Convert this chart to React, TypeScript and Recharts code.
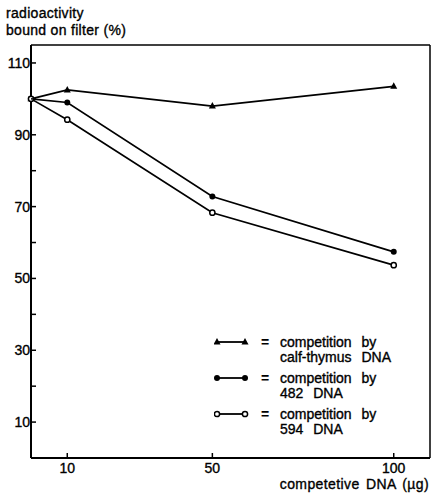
import { LineChart, Line, XAxis, YAxis, ReferenceLine } from "recharts"

const doses = [0, 10, 50, 100]
const calfThymus = [100, 102.5, 98, 103.5]
const dna482 = [100, 99, 72.8, 57.4]
const dna594 = [100, 94.2, 68.3, 53.7]
const xTicks = [10, 50, 100]
const yTicks = [10, 20, 30, 40, 50, 60, 70, 80, 90, 100, 110]
const yLabels = [10, 30, 50, 70, 90, 110]

const data = doses.map((d, i) => ({
  dose: d,
  calf: calfThymus[i],
  d482: dna482[i],
  d594: dna594[i],
}))

const font = "'Liberation Sans', Arial, sans-serif"
const heavy = { WebkitTextStroke: "0.35px #000" } as any

const YTick = ({ x, y, payload }: any) => {
  const ax = x + 8
  return (
    <g>
      <line x1={ax} x2={ax + 5} y1={y} y2={y} stroke="#000" strokeWidth={1.5} />
      {yLabels.includes(payload.value) && (
        <text x={ax - 1} y={y} dy="0.36em" textAnchor="end" fontSize={14} fontFamily={font} fill="#000" stroke="#000" strokeWidth={0.35}>
          {payload.value}
        </text>
      )}
    </g>
  )
}

const XTick = ({ x, y, payload }: any) => {
  const ay = y - 8
  return (
    <g>
      <line x1={x} x2={x} y1={ay} y2={ay - 5} stroke="#000" strokeWidth={1.5} />
      <text x={x} y={ay + 15} textAnchor="middle" fontSize={14} fontFamily={font} fill="#000" stroke="#000" strokeWidth={0.35}>
        {payload.value}
      </text>
    </g>
  )
}

const Tri = ({ cx, cy }: any) => (
  <path d={`M${cx},${cy - 4} L${cx + 3.5},${cy + 2.5} L${cx - 3.5},${cy + 2.5} Z`} fill="#000" />
)
const Dot = ({ cx, cy }: any) => <circle cx={cx} cy={cy} r={3} fill="#000" />
const Ring = ({ cx, cy }: any) => (
  <circle cx={cx} cy={cy} r={2.6} fill="#fff" stroke="#000" strokeWidth={1.5} />
)

const legendItems = [
  { lines: ["competition by", "calf-thymus DNA"], marker: "tri" },
  { lines: ["competition by", "482 DNA"], marker: "dot" },
  { lines: ["competition by", "594 DNA"], marker: "ring" },
]

function LegendMark({ marker }: { marker: string }) {
  const m = (cx: number) =>
    marker === "tri" ? (
      <Tri cx={cx} cy={6} />
    ) : marker === "dot" ? (
      <Dot cx={cx} cy={6} />
    ) : (
      <Ring cx={cx} cy={6} />
    )
  return (
    <svg width={36} height={12} style={{ display: "block" }}>
      <line x1={3} x2={31} y1={6} y2={6} stroke="#000" strokeWidth={1.8} />
      {m(3)}
      {m(31)}
    </svg>
  )
}

export default function App() {
  return (
    <div style={{ position: "absolute", left: 0, top: 0, width: 432, height: 494, background: "#fff", fontFamily: font, color: "#000" }}>
      <div style={{ position: "absolute", left: 6, top: 5, fontSize: 14, lineHeight: "17px", letterSpacing: 0.3, ...heavy }}>
        radioactivity
        <br />
        bound on filter (%)
      </div>
      <LineChart width={432} height={494} data={data} margin={{ top: 45, right: 2, bottom: 0, left: 0 }}>
        <XAxis
          dataKey="dose"
          type="number"
          domain={[0, 110]}
          ticks={xTicks}
          height={36}
          axisLine={{ stroke: "#000", strokeWidth: 2 }}
          tickLine={false}
          tick={<XTick />}
          interval={0}
        />
        <YAxis
          type="number"
          domain={[0, 115]}
          ticks={yTicks}
          width={31}
          axisLine={{ stroke: "#000", strokeWidth: 2 }}
          tickLine={false}
          tick={<YTick />}
          interval={0}
        />
        <ReferenceLine y={115} stroke="#000" strokeWidth={1.5} ifOverflow="visible" />
        <ReferenceLine x={110} stroke="#000" strokeWidth={1.5} ifOverflow="visible" />
        <Line
          dataKey="calf"
          stroke="#000"
          strokeWidth={1.7}
          isAnimationActive={false}
          dot={(p: any) => <Tri key={p.index} cx={p.cx} cy={p.cy} />}
        />
        <Line
          dataKey="d482"
          stroke="#000"
          strokeWidth={1.7}
          isAnimationActive={false}
          dot={(p: any) => <Dot key={p.index} cx={p.cx} cy={p.cy} />}
        />
        <Line
          dataKey="d594"
          stroke="#000"
          strokeWidth={1.7}
          isAnimationActive={false}
          dot={(p: any) => <Ring key={p.index} cx={p.cx} cy={p.cy} />}
        />
      </LineChart>
      <div style={{ position: "absolute", left: 214, top: 335 }}>
        {legendItems.map((it, i) => (
          <div key={i} style={{ display: "flex", alignItems: "flex-start", height: 36 }}>
            <div style={{ marginTop: 1 }}>
              <LegendMark marker={it.marker} />
            </div>
            <div style={{ width: 30, textAlign: "center", fontSize: 14, lineHeight: "14px", fontWeight: "bold" }}>=</div>
            <div style={{ fontSize: 14, lineHeight: "14.5px", wordSpacing: 6, ...heavy }}>
              {it.lines[0]}
              <br />
              {it.lines[1]}
            </div>
          </div>
        ))}
      </div>
      <div style={{ position: "absolute", right: 3, top: 476, fontSize: 14, lineHeight: "16px", letterSpacing: 0.4, wordSpacing: 2, ...heavy }}>
        competetive DNA (µg)
      </div>
    </div>
  )
}
